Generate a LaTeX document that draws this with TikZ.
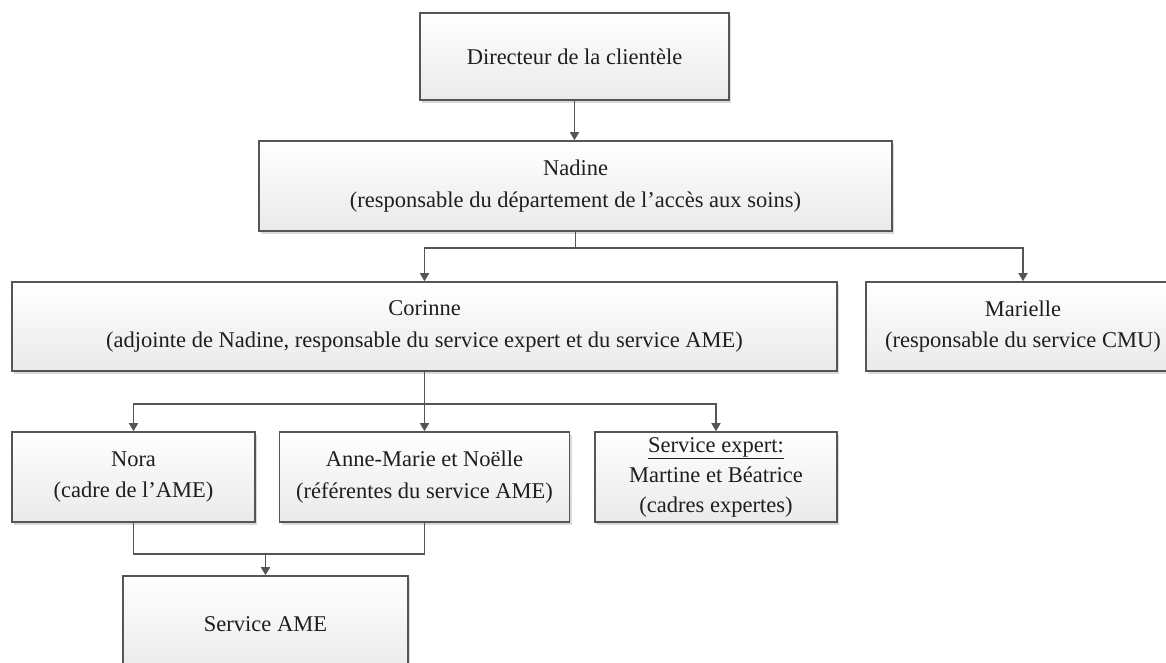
\documentclass[tikz,border=0pt]{standalone}
\usepackage{fontspec}
\setmainfont{Liberation Serif}
\usetikzlibrary{arrows.meta,shadows,calc}
\definecolor{edge}{HTML}{555555}
\definecolor{shade}{HTML}{EAEAEA}
\definecolor{shadowc}{HTML}{DADADA}
\definecolor{txt}{HTML}{1E1E1E}
\begin{document}
\begin{tikzpicture}[x=1pt,y=-1pt,
  box/.style={draw=edge, line width=1.6pt, top color=white, bottom color=shade,
    align=center, inner sep=0pt, text=txt,
    font=\fontsize{22.5}{31.5}\selectfont,
    drop shadow={shadow xshift=2pt, shadow yshift=-3pt, fill=shadowc, opacity=1}},
  link/.style={draw=edge, line width=1.6pt},
  arr/.style={link, -{Triangle[width=9pt,length=8pt]}}]
\useasboundingbox (0,0) rectangle (1166,662);

\node[box, minimum width=309pt, minimum height=87pt] (dir) at (574.5,56.5) {Directeur de la clientèle};
\node[box, minimum width=633pt, minimum height=90pt] (nad) at (575.5,186) {Nadine\\(responsable du département de l’accès aux soins)};
\node[box, minimum width=825pt, minimum height=89pt] (cor) at (424.5,326.5) {Corinne\\(adjointe de Nadine, responsable du service expert et du service AME)};
\node[box, minimum width=314pt, minimum height=89pt] (mar) at (1023,326.5) {Marielle\\(responsable du service CMU)};
\node[box, minimum width=243pt, minimum height=90pt] (nor) at (133.5,477) {Nora\\(cadre de l’AME)};
\node[box, minimum width=290pt, minimum height=90pt] (am) at (424.5,477) {Anne-Marie et Noëlle\\(référentes du service AME)};
\node[box, minimum width=242pt, minimum height=90pt, font=\fontsize{22.5}{30}\selectfont] (exp) at (716,477) {\underline{Service expert:}\\Martine et Béatrice\\(cadres expertes)};
\node[box, minimum width=285pt, minimum height=96pt] (ame) at (265.5,624) {Service AME};

\draw[arr] (dir.south) -- (dir.south |- nad.north);
\draw[arr] (nad.south) -- ++(0,16) -| (cor.north);
\draw[arr] (nad.south) -- ++(0,16) -| (mar.north);
\draw[arr] (cor.south) -- ++(0,32) -| (nor.north);
\draw[arr] (cor.south) -- (cor.south |- am.north);
\draw[arr] (cor.south) -- ++(0,32) -| (exp.north);
\draw[link] (nor.south) -- ++(0,31) -| (am.south);
\coordinate (j) at ($(nor.south)+(0,31)$);
\draw[arr] (j -| ame.north) -- (ame.north);
\end{tikzpicture}
\end{document}
